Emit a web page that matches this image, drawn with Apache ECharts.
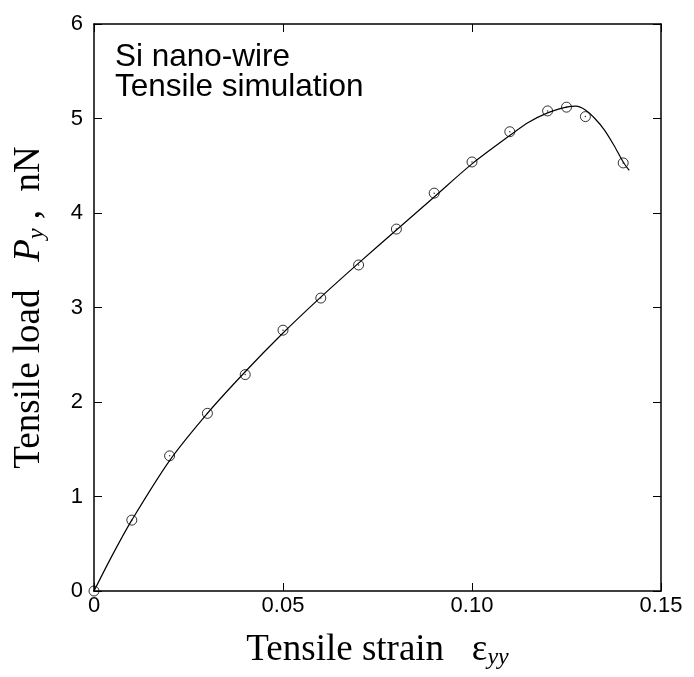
<!DOCTYPE html>
<html>
<head>
<meta charset="utf-8">
<script src="https://cdn.jsdelivr.net/npm/echarts@6/dist/echarts.min.js"></script>
<style>
  html, body { margin: 0; padding: 0; background: #fff; }
  #chart { width: 694px; height: 677px; }
</style>
</head>
<body>
<div id="chart"></div>
<script>
// simulated points (open circles)
const strain = [0, 0.01, 0.02, 0.03, 0.04, 0.05, 0.06, 0.07, 0.08, 0.09, 0.10, 0.11, 0.12, 0.125, 0.13, 0.14];
const load = [0, 0.75, 1.43, 1.88, 2.29, 2.76, 3.10, 3.45, 3.83, 4.21, 4.54, 4.86, 5.08, 5.12, 5.02, 4.53];

// fitted curve
const fitStrain = [0, 0.005, 0.01, 0.02, 0.03, 0.04, 0.05, 0.06, 0.07, 0.08, 0.09, 0.10, 0.11, 0.115, 0.12, 0.125, 0.1275, 0.13, 0.1325, 0.135, 0.1375, 0.14, 0.1416];
const fitLoad = [0, 0.39, 0.75, 1.38, 1.88, 2.32, 2.73, 3.11, 3.47, 3.82, 4.17, 4.52, 4.82, 4.96, 5.06, 5.12, 5.13, 5.09, 5.00, 4.88, 4.72, 4.54, 4.45];

const xTicks = ["0", "0.05", "0.10", "0.15"];
const sansFont = "'Liberation Sans', Arial, sans-serif";
const serifFont = "'Liberation Serif', 'Times New Roman', serif";

const chart = echarts.init(document.getElementById("chart"));

const pts = strain.map((x, i) => [x, load[i]]);
const fit = fitStrain.map((x, i) => [x, fitLoad[i]]);

const axisLine = { show: true, onZero: false, lineStyle: { color: "#000", width: 1.5 } };
const axisTick = { show: true, inside: true, length: 8, lineStyle: { color: "#000", width: 1 } };

chart.setOption({
  backgroundColor: "#fff",
  animation: false,
  grid: { left: 94, right: 33, top: 24, bottom: 86 },
  xAxis: [
    {
      type: "value",
      min: 0, max: 0.15, interval: 0.05,
      position: "bottom",
      axisLine, axisTick,
      splitLine: { show: false },
      axisLabel: {
        color: "#000", fontSize: 22, fontFamily: sansFont, margin: 4,
        formatter: (v) => xTicks[Math.round(v / 0.05)]
      },
      name: "{t|Tensile strain   ε}{s|yy}",
      nameLocation: "middle",
      nameGap: 39,
      nameTextStyle: {
        rich: {
          t: { fontSize: 37, fontFamily: serifFont, color: "#000" },
          s: { fontSize: 24, fontFamily: serifFont, fontStyle: "italic", color: "#000", padding: [16, 0, 0, 0] }
        }
      }
    },
    {
      type: "value",
      min: 0, max: 0.15, interval: 0.05,
      position: "top",
      axisLine, axisTick,
      splitLine: { show: false },
      axisLabel: { show: false }
    }
  ],
  yAxis: [
    {
      type: "value",
      min: 0, max: 6, interval: 1,
      position: "left",
      axisLine, axisTick,
      splitLine: { show: false },
      axisLabel: { color: "#000", fontSize: 22, fontFamily: sansFont, margin: 11 },
      name: "{t|Tensile load   }{p|P}{s|y}{t| ,  nN}",
      nameLocation: "middle",
      nameGap: 45,
      nameTextStyle: {
        rich: {
          t: { fontSize: 37, fontFamily: serifFont, color: "#000" },
          p: { fontSize: 37, fontFamily: serifFont, fontStyle: "italic", color: "#000" },
          s: { fontSize: 24, fontFamily: serifFont, fontStyle: "italic", color: "#000", padding: [16, 0, 0, 0] }
        }
      }
    },
    {
      type: "value",
      min: 0, max: 6, interval: 1,
      position: "right",
      axisLine, axisTick,
      splitLine: { show: false },
      axisLabel: { show: false }
    }
  ],
  graphic: [
    {
      type: "text",
      left: 115,
      top: 41,
      style: {
        text: "Si nano-wire\nTensile simulation",
        font: "31.5px " + sansFont,
        lineHeight: 30,
        fill: "#000"
      }
    }
  ],
  series: [
    {
      name: "fit",
      type: "line",
      data: fit,
      smooth: 0.3,
      symbol: "none",
      lineStyle: { color: "#000", width: 1.2 }
    },
    {
      name: "sim",
      type: "scatter",
      data: pts,
      symbol: "circle",
      symbolSize: 10,
      itemStyle: { color: "rgba(255,255,255,0)", borderColor: "#000", borderWidth: 1 }
    },
    {
      name: "simDot",
      type: "scatter",
      data: pts,
      symbol: "circle",
      symbolSize: 1.5,
      itemStyle: { color: "#000" }
    }
  ]
});
</script>
</body>
</html>
